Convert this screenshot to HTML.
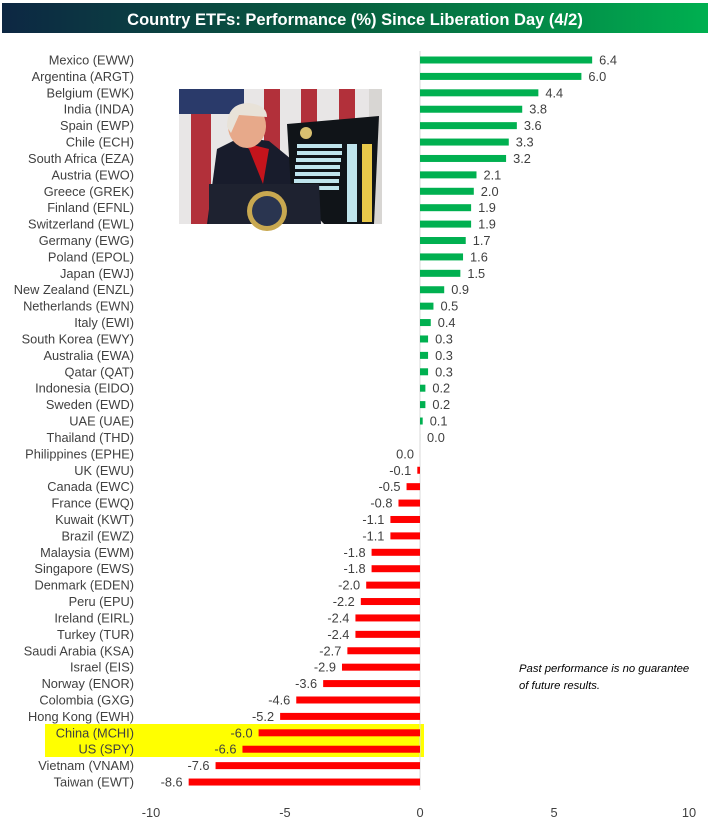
<!DOCTYPE html>
<html><head><meta charset="utf-8"><style>
html,body{margin:0;padding:0;background:#fff;}
svg{display:block;}
text{font-family:"Liberation Sans",sans-serif;}
</style></head><body>
<svg width="709" height="824" viewBox="0 0 709 824" xmlns="http://www.w3.org/2000/svg">
<defs>
<linearGradient id="tg" x1="0" x2="1" y1="0" y2="0">
<stop offset="0" stop-color="#0d2743"/><stop offset="0.5" stop-color="#07603f"/><stop offset="1" stop-color="#00b050"/>
</linearGradient>
</defs>
<rect x="2" y="3" width="706" height="30" fill="url(#tg)"/>
<text x="355" y="25" fill="#fff" font-size="16.5" font-weight="bold" text-anchor="middle">Country ETFs: Performance (%) Since Liberation Day (4/2)</text>

<rect x="45" y="724" width="379" height="33" fill="#ffff00"/>

<g transform="translate(179,89)">
<rect width="203" height="135" fill="#e8e6e6"/>
<rect x="0" y="0" width="65" height="25" fill="#2a3a6a"/>
<rect x="12" y="25" width="20" height="110" fill="#b2303a"/>
<rect x="85" y="0" width="16" height="135" fill="#b2303a"/>
<rect x="122" y="0" width="16" height="60" fill="#b2303a"/>
<rect x="160" y="0" width="16" height="60" fill="#b2303a"/>
<rect x="190" y="0" width="13" height="135" fill="#d8d6d3"/>
<path d="M28 135 L38 60 L62 48 L90 52 L112 70 L118 135 Z" fill="#181c2c"/>
<path d="M58 52 L70 60 L84 95 L90 60 Z" fill="#c4141c"/>
<ellipse cx="68" cy="37" rx="19" ry="22" fill="#e7a98a"/>
<path d="M48 38 Q48 14 70 14 Q88 16 88 28 L60 26 L52 44 Z" fill="#e8e2d8"/>
<path d="M108 35 L200 27 L195 135 L145 135 L112 100 Z" fill="#101418"/>
<g fill="#bfe4ec">
<rect x="118" y="55" width="45" height="4"/><rect x="118" y="62" width="45" height="4"/><rect x="117" y="69" width="45" height="4"/><rect x="116" y="76" width="45" height="4"/><rect x="116" y="83" width="45" height="4"/><rect x="115" y="90" width="45" height="4"/><rect x="115" y="97" width="45" height="4"/>
<rect x="168" y="55" width="10" height="78"/>
</g>
<rect x="183" y="55" width="10" height="78" fill="#e8c84a"/>
<circle cx="127" cy="44" r="6" fill="#d8c070"/>
<path d="M30 95 L140 95 L142 135 L30 135 Z" fill="#1e2230"/>
<circle cx="88" cy="122" r="20" fill="#c8a850"/>
<circle cx="88" cy="122" r="15" fill="#2a3550"/>
</g>

<line x1="420" y1="51" x2="420" y2="790" stroke="#d9d9d9" stroke-width="1"/>

<g font-size="12.8" fill="#404040" id="rows"></g>
<g font-size="12.8" fill="#404040" text-anchor="middle">
<text x="151" y="817">-10</text><text x="285" y="817">-5</text><text x="420" y="817">0</text><text x="554" y="817">5</text><text x="689" y="817">10</text>
</g>
<g font-size="11.3" font-style="italic" fill="#000">
<text x="519" y="672">Past performance is no guarantee</text>
<text x="519" y="689">of future results.</text>
</g>
</svg>
<script>
var d=[["Mexico (EWW)",6.4],["Argentina (ARGT)",6.0],["Belgium (EWK)",4.4],["India (INDA)",3.8],["Spain (EWP)",3.6],["Chile (ECH)",3.3],["South Africa (EZA)",3.2],["Austria (EWO)",2.1],["Greece (GREK)",2.0],["Finland (EFNL)",1.9],["Switzerland (EWL)",1.9],["Germany (EWG)",1.7],["Poland (EPOL)",1.6],["Japan (EWJ)",1.5],["New Zealand (ENZL)",0.9],["Netherlands (EWN)",0.5],["Italy (EWI)",0.4],["South Korea (EWY)",0.3],["Australia (EWA)",0.3],["Qatar (QAT)",0.3],["Indonesia (EIDO)",0.2],["Sweden (EWD)",0.2],["UAE (UAE)",0.1],["Thailand (THD)",0.001],["Philippines (EPHE)",-0.001],["UK (EWU)",-0.1],["Canada (EWC)",-0.5],["France (EWQ)",-0.8],["Kuwait (KWT)",-1.1],["Brazil (EWZ)",-1.1],["Malaysia (EWM)",-1.8],["Singapore (EWS)",-1.8],["Denmark (EDEN)",-2.0],["Peru (EPU)",-2.2],["Ireland (EIRL)",-2.4],["Turkey (TUR)",-2.4],["Saudi Arabia (KSA)",-2.7],["Israel (EIS)",-2.9],["Norway (ENOR)",-3.6],["Colombia (GXG)",-4.6],["Hong Kong (EWH)",-5.2],["China (MCHI)",-6.0],["US (SPY)",-6.6],["Vietnam (VNAM)",-7.6],["Taiwan (EWT)",-8.6]];
var g=document.getElementById("rows"),s="",z=420,k=26.9;
d.forEach(function(r,i){var y=60+i*16.41,v=r[1],w=Math.abs(v)*k,lab=(Math.abs(v)<0.01?"0.0":v.toFixed(1));
s+='<text x="134" y="'+(y+4.5)+'" text-anchor="end">'+r[0]+'</text>';
if(v>0){s+='<rect x="'+z+'" y="'+(y-3.5)+'" width="'+w+'" height="7" fill="#00b050"/>';s+='<text x="'+(z+w+7)+'" y="'+(y+4.5)+'">'+lab+'</text>';}
else{s+='<rect x="'+(z-w)+'" y="'+(y-3.5)+'" width="'+w+'" height="7" fill="#ff0000"/>';s+='<text x="'+(z-w-6)+'" y="'+(y+4.5)+'" text-anchor="end">'+lab+'</text>';}
});
g.innerHTML=s;
</script>
</body></html>
